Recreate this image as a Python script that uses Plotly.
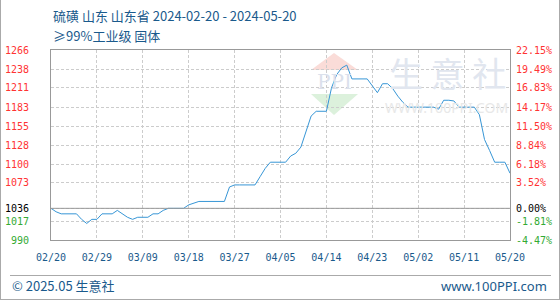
import plotly.graph_objects as go
import pandas as pd

W, H = 560, 300
ML, MR, MT, MB = 51, 50, 50, 60

title_line1 = "硫磺 山东 山东省 2024-02-20 - 2024-05-20"
title_line2 = "≥99%工业级 固体"
footer_left = "© 2025.05 生意社"
footer_right = "www.100PPI.com"

start_date = "2024-02-20"
end_date = "2024-05-20"

prices = [
    1036, 1031, 1028, 1028, 1028, 1028, 1020, 1014, 1020, 1020,
    1028, 1028, 1028, 1033, 1028, 1023, 1020, 1023, 1023, 1023,
    1028, 1028, 1033, 1036, 1036, 1036, 1036, 1041, 1044, 1046,
    1046, 1046, 1046, 1046, 1046, 1067, 1070, 1070, 1070, 1070,
    1070, 1082, 1094, 1103, 1103, 1103, 1103, 1112, 1116, 1125,
    1148, 1170, 1177, 1177, 1177, 1211, 1230, 1240, 1244, 1224,
    1224, 1224, 1224, 1214, 1204, 1217, 1217, 1210, 1199, 1190,
    1183, 1183, 1183, 1183, 1183, 1183, 1180, 1193, 1193, 1192,
    1183, 1183, 1183, 1183, 1172, 1136, 1120, 1103, 1103, 1103,
    1087,
]
base_price = 1036

x_tick_dates = ["2024-02-20", "2024-02-29", "2024-03-09", "2024-03-18", "2024-03-27",
                "2024-04-05", "2024-04-14", "2024-04-23", "2024-05-02", "2024-05-11",
                "2024-05-20"]
x_tick_labels = ["02/20", "02/29", "03/09", "03/18", "03/27", "04/05",
                 "04/14", "04/23", "05/02", "05/11", "05/20"]

y_tick_values = [1266, 1238, 1211, 1183, 1155, 1128, 1100, 1073, 1036, 1017, 990]
y_tick_labels = ["1266", "1238", "1211", "1183", "1155", "1128", "1100", "1073",
                 "1036", "1017", "990"]
pct_tick_labels = ["22.15%", "19.49%", "16.83%", "14.17%", "11.50%", "8.84%",
                   "6.18%", "3.52%", "0.00%", "-1.81%", "-4.47%"]

dates = pd.date_range(start_date, end_date, freq="D")

RED, GREEN, BLACK = "#ff3333", "#33aa33", "#000000"
TXT = "#1a5a8c"
LINE = "#3796d6"
FRAME = "#999999"
GRID = "#cccccc"


def col(v):
    if v > base_price:
        return RED
    if v < base_price:
        return GREEN
    return BLACK


left_text = [f'<span style="color:{col(v)}">{t}</span>' for v, t in zip(y_tick_values, y_tick_labels)]
right_text = [f'<span style="color:{col(v)}">{t}</span>' for v, t in zip(y_tick_values, pct_tick_labels)]

PW = W - ML - MR
PH = H - MT - MB


def px(x):
    return (x - ML) / PW


def py(y):
    return (H - MB - y) / PH


fig = go.Figure()
fig.add_trace(go.Scatter(x=dates, y=prices, mode="lines",
                         line=dict(color=LINE, width=1), hoverinfo="skip",
                         showlegend=False))
fig.add_trace(go.Scatter(x=dates, y=prices, mode="lines", yaxis="y2",
                         line=dict(color="rgba(0,0,0,0)", width=0), hoverinfo="skip",
                         showlegend=False))

mono = "DejaVu Sans Mono"

fig.update_layout(
    width=W, height=H,
    margin=dict(l=ML, r=MR, t=MT, b=MB, autoexpand=False),
    paper_bgcolor="white", plot_bgcolor="white",
    xaxis=dict(type="date", range=[start_date, end_date],
               tickvals=x_tick_dates, ticktext=x_tick_labels, automargin=False,
               showgrid=True, gridcolor=GRID, griddash="3px,2px", gridwidth=1,
               showline=True, linecolor=FRAME, linewidth=1, mirror=True,
               ticks="", ticklabelstandoff=8,
               tickfont=dict(family=mono, size=10, color=TXT), zeroline=False),
    yaxis=dict(range=[990, 1266], tickvals=y_tick_values, ticktext=left_text,
               automargin=False,
               showgrid=True, gridcolor=GRID, griddash="3px,2px", gridwidth=1,
               showline=True, linecolor=FRAME, linewidth=1, mirror=True,
               ticks="", ticklabelstandoff=19,
               tickfont=dict(family=mono, size=10), zeroline=False),
    yaxis2=dict(range=[990, 1266], tickvals=y_tick_values, ticktext=right_text,
                automargin=False,
                overlaying="y", side="right", showgrid=False, showline=False,
                ticks="", ticklabelstandoff=5,
                tickfont=dict(family=mono, size=10), zeroline=False),
)

shapes = []
# baseline at 0%
shapes.append(dict(type="line", xref="paper", yref="y", x0=0, x1=1,
                   y0=base_price, y1=base_price, line=dict(color=FRAME, width=1)))
# footer separator
shapes.append(dict(type="line", xref="paper", yref="paper", x0=px(10), x1=px(551),
                   y0=py(275.5), y1=py(275.5), line=dict(color="#aaaaaa", width=1)))
# outer border (left, right, bottom)
shapes.append(dict(type="line", xref="paper", yref="paper", x0=px(0.5), x1=px(0.5),
                   y0=py(0), y1=py(299.5), line=dict(color="#aaaaaa", width=1)))
shapes.append(dict(type="line", xref="paper", yref="paper", x0=px(559.5), x1=px(559.5),
                   y0=py(0), y1=py(299.5), line=dict(color="#aaaaaa", width=1)))
shapes.append(dict(type="line", xref="paper", yref="paper", x0=px(0), x1=px(560),
                   y0=py(299.5), y1=py(299.5), line=dict(color="#aaaaaa", width=1)))


def tri(pts, color):
    d = "M " + " L ".join(f"{px(a)},{py(b)}" for a, b in pts) + " Z"
    return dict(type="path", xref="paper", yref="paper", path=d,
                fillcolor=color, line=dict(width=0), layer="below")


# watermark logo
shapes.append(tri([(334, 53), (358, 70), (311, 70)], "#fadcd8"))
shapes.append(tri([(311, 94), (358, 94), (334, 115)], "#dcf1dc"))
fig.update_layout(shapes=shapes)

ann = []
ann.append(dict(text=title_line1, x=px(50.5), y=py(15), xref="paper", yref="paper",
                xanchor="left", yanchor="middle", showarrow=False,
                font=dict(family="Noto Sans CJK SC", size=13, color=TXT)))
ann.append(dict(text=title_line2, x=px(50.5), y=py(35), xref="paper", yref="paper",
                xanchor="left", yanchor="middle", showarrow=False,
                font=dict(family="Noto Sans CJK SC", size=13, color=TXT)))
ann.append(dict(text=footer_left, x=px(10), y=py(285.5), xref="paper", yref="paper",
                xanchor="left", yanchor="middle", showarrow=False,
                font=dict(family="Noto Sans CJK SC", size=13, color=TXT)))
ann.append(dict(text=footer_right, x=px(549), y=py(285.5), xref="paper", yref="paper",
                xanchor="right", yanchor="middle", showarrow=False,
                font=dict(family="Noto Sans", size=13, color=TXT)))
# watermark texts
ann.append(dict(text="PPI", x=px(334.5), y=py(82), xref="paper", yref="paper",
                xanchor="center", yanchor="middle", showarrow=False,
                font=dict(family="DejaVu Serif", size=20, color="#dbe1ec")))
ann.append(dict(text="生 意 社", x=px(447), y=py(72), xref="paper", yref="paper",
                xanchor="center", yanchor="middle", showarrow=False,
                font=dict(family="Noto Sans CJK SC", size=34, color="#e1e6ef")))
ann.append(dict(text="WWW.100PPI.COM", x=px(446), y=py(107), xref="paper", yref="paper",
                xanchor="center", yanchor="middle", showarrow=False,
                font=dict(family="Noto Sans", size=14, color="#e8e8e8")))
fig.update_layout(annotations=ann)

fig.write_html("out.html")
